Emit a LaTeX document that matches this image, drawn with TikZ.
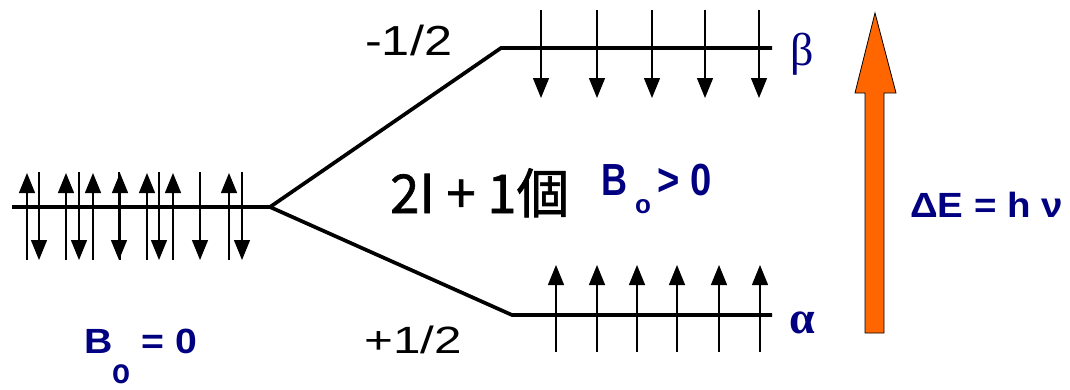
\documentclass[tikz,border=0pt]{standalone}
\usepackage{fontspec}
\setmainfont{Liberation Sans}
\newfontfamily\cjk{Noto Sans CJK JP}[FakeBold=1.2]
\newfontfamily\grk{Liberation Serif}
\usetikzlibrary{arrows.meta}
\definecolor{navy}{RGB}{0,0,128}
\definecolor{orng}{RGB}{255,102,0}
\begin{document}
\begin{tikzpicture}[x=1pt,y=-1pt,
  level/.style={line width=3.7pt},
  spin/.style={line width=1.3pt,-{Triangle[length=20pt,width=16pt]}},
  blk/.style={inner sep=0pt, anchor=base west},
  nv/.style={text=navy, inner sep=0pt, anchor=base west}]
\useasboundingbox (0,0) rectangle (1070,389);
% energy levels
\coordinate (L0) at (12,207);
\coordinate (S) at (270,207);
\coordinate (B0) at (501,48);
\coordinate (B1) at (772,48);
\coordinate (A0) at (512,315);
\coordinate (A1) at (772,315);
\draw[level] (L0) -- (S);
\draw[level] (S) -- (B0) -- (B1);
\draw[level] (S) -- (A0) -- (A1);
% spins at B0 = 0
\foreach \x [count=\i] in {27,66,93,120,147,173,229}{
  \coordinate (ub\i) at (\x,260); \coordinate (ut\i) at (\x,173);
  \draw[spin] (ub\i) -- (ut\i);}
\foreach \x [count=\i] in {39,79,119,159,200,242}{
  \coordinate (dt\i) at (\x,172); \coordinate (db\i) at (\x,260);
  \draw[spin] (dt\i) -- (db\i);}
% beta spins
\foreach \x [count=\i] in {541,597,652,705,759}{
  \coordinate (bt\i) at (\x,10); \coordinate (bb\i) at (\x,98);
  \draw[spin] (bt\i) -- (bb\i);}
% alpha spins
\foreach \x [count=\i] in {556,597,637,677,719,760}{
  \coordinate (ab\i) at (\x,352); \coordinate (at\i) at (\x,265);
  \draw[spin] (ab\i) -- (at\i);}
% orange arrow
\draw[fill=orng, line width=0.8pt] (865,333) -- (884,333) -- (884,93) -- (896,93)
  -- (875,13) -- (855,93) -- (865,93) -- cycle;
% labels
\node[blk, font=\fontsize{42}{42}\selectfont] (mh) at (365,55) {\scalebox{1.2}[1]{-1/2}};
\node[blk, font=\fontsize{38}{38}\selectfont] (ph) at (364,353) {\scalebox{1.3}[1]{+1/2}};
\node[blk, font=\cjk\fontsize{51}{51}\selectfont] (n) at (390,213) {\scalebox{1.03}[1.05]{2I + 1個}};
\node[nv, font=\grk\fontsize{46}{46}\selectfont] (beta) at (790,65) {β};
\node[nv, font=\grk\bfseries\fontsize{46}{46}\selectfont] (alpha) at (789,333) {α};
\node[nv, font=\bfseries\fontsize{45}{45}\selectfont] (bg) at (601,195)
  {\scalebox{0.8}[1]{B}\hspace{8pt}\raisebox{-18pt}{\fontsize{26}{26}\selectfont o}\hspace{6pt}\scalebox{0.85}[1]{\textgreater{} 0}};
\node[nv, font=\bfseries\fontsize{35}{35}\selectfont] (bz) at (84,353)
  {\scalebox{1.12}[1]{B\raisebox{-30pt}{\scalebox{0.75}[1]{o}} = 0}};
\node[nv, font=\bfseries\fontsize{35}{35}\selectfont] (de) at (910,217) {\scalebox{1.1}[1]{ΔE = h ν}};
\end{tikzpicture}
\end{document}
